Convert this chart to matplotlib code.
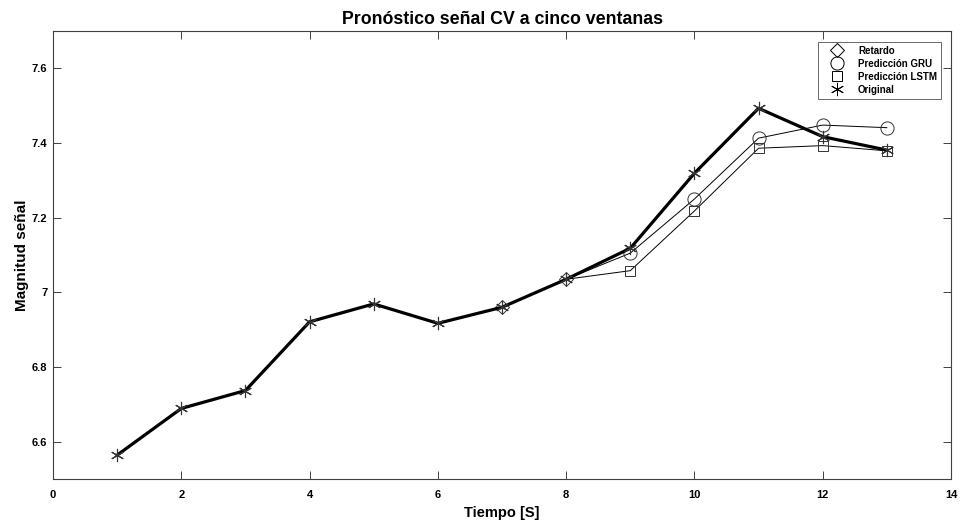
import matplotlib
matplotlib.use("Agg")
import matplotlib.pyplot as plt
from matplotlib.lines import Line2D

plt.rcParams['font.family'] = ['Liberation Sans', 'DejaVu Sans']

# Data
t_orig = [1, 2, 3, 4, 5, 6, 7, 8, 9, 10, 11, 12, 13]
v_orig = [6.564, 6.689, 6.737, 6.921, 6.969, 6.917, 6.960, 7.035, 7.118, 7.319, 7.493, 7.417, 7.381]

t_ret = [7, 8]
v_ret = [6.960, 7.035]

t_pred = [8, 9, 10, 11, 12, 13]
v_gru = [7.035, 7.105, 7.250, 7.413, 7.448, 7.441]
v_lstm = [7.035, 7.058, 7.218, 7.386, 7.393, 7.379]

labels = ['Retardo', 'Predicción GRU', 'Predicción LSTM', 'Original']
xticks = [0, 2, 4, 6, 8, 10, 12, 14]
yticks = [6.6, 6.8, 7.0, 7.2, 7.4, 7.6]
yticklabels = ['6.6', '6.8', '7', '7.2', '7.4', '7.6']

fig = plt.figure(figsize=(9.6, 5.23), dpi=100)
ax = fig.add_axes([53/960, 1-479/523, (951-53)/960, (479-31)/523])

axc = '#404040'
mk_col = '#333333'

ax.plot(t_ret, v_ret, color='black', lw=0.7, marker='D', ms=7.5, mfc='none', mec=mk_col, mew=0.7)
ax.plot(t_pred, v_gru, color='black', lw=0.7, marker='o', ms=9.5, mfc='none', mec=mk_col, mew=0.7,
        markevery=list(range(1, len(t_pred))))
ax.plot(t_pred, v_lstm, color='black', lw=0.7, marker='s', ms=7.5, mfc='none', mec=mk_col, mew=0.7,
        markevery=list(range(1, len(t_pred))))
ax.plot(t_orig, v_orig, color='black', lw=2.3, zorder=3)
ax.plot(t_orig, v_orig, ls='none', marker=(6, 2, 0), ms=9.5, mec=mk_col, mew=0.8, zorder=4)

ax.set_xlim(0, 14)
ax.set_ylim(6.5, 7.7)
ax.set_xticks(xticks)
ax.set_xticklabels([str(x) for x in xticks], fontweight='bold', fontsize=8)
ax.set_yticks(yticks)
ax.set_yticklabels(yticklabels, fontweight='bold', fontsize=8)
ax.tick_params(direction='in', length=6, width=0.7, color=axc, top=True, right=True)
ax.tick_params(axis='x', pad=8)
ax.tick_params(axis='y', pad=4)
for s in ax.spines.values():
    s.set_color(axc)
    s.set_linewidth(0.8)

ax.set_title('Pronóstico señal CV a cinco ventanas', fontweight='bold', fontsize=12.8, pad=5)
ax.set_xlabel('Tiempo [S]', fontweight='bold', fontsize=10.5, labelpad=4)
ax.set_ylabel('Magnitud señal', fontweight='bold', fontsize=11, labelpad=2)

handles = [
    Line2D([], [], ls='none', marker='D', ms=7.5, mfc='none', mec='black', mew=0.7),
    Line2D([], [], ls='none', marker='o', ms=9.5, mfc='none', mec='black', mew=0.7),
    Line2D([], [], ls='none', marker='s', ms=7.5, mfc='none', mec='black', mew=0.7),
    Line2D([], [], ls='none', marker=(6, 2, 0), ms=9.5, mec='black', mew=0.7),
]
leg = ax.legend(handles, labels, loc='upper right', bbox_to_anchor=((941-53)/(951-53), 1 - 11/448),
                prop={'weight': 'bold', 'size': 7}, frameon=True, fancybox=False,
                edgecolor=axc, handlelength=3.1, handletextpad=0.6, borderpad=0.4,
                labelspacing=0.3, borderaxespad=0)
leg.get_frame().set_linewidth(0.7)

fig.savefig('out.png', dpi=100)
